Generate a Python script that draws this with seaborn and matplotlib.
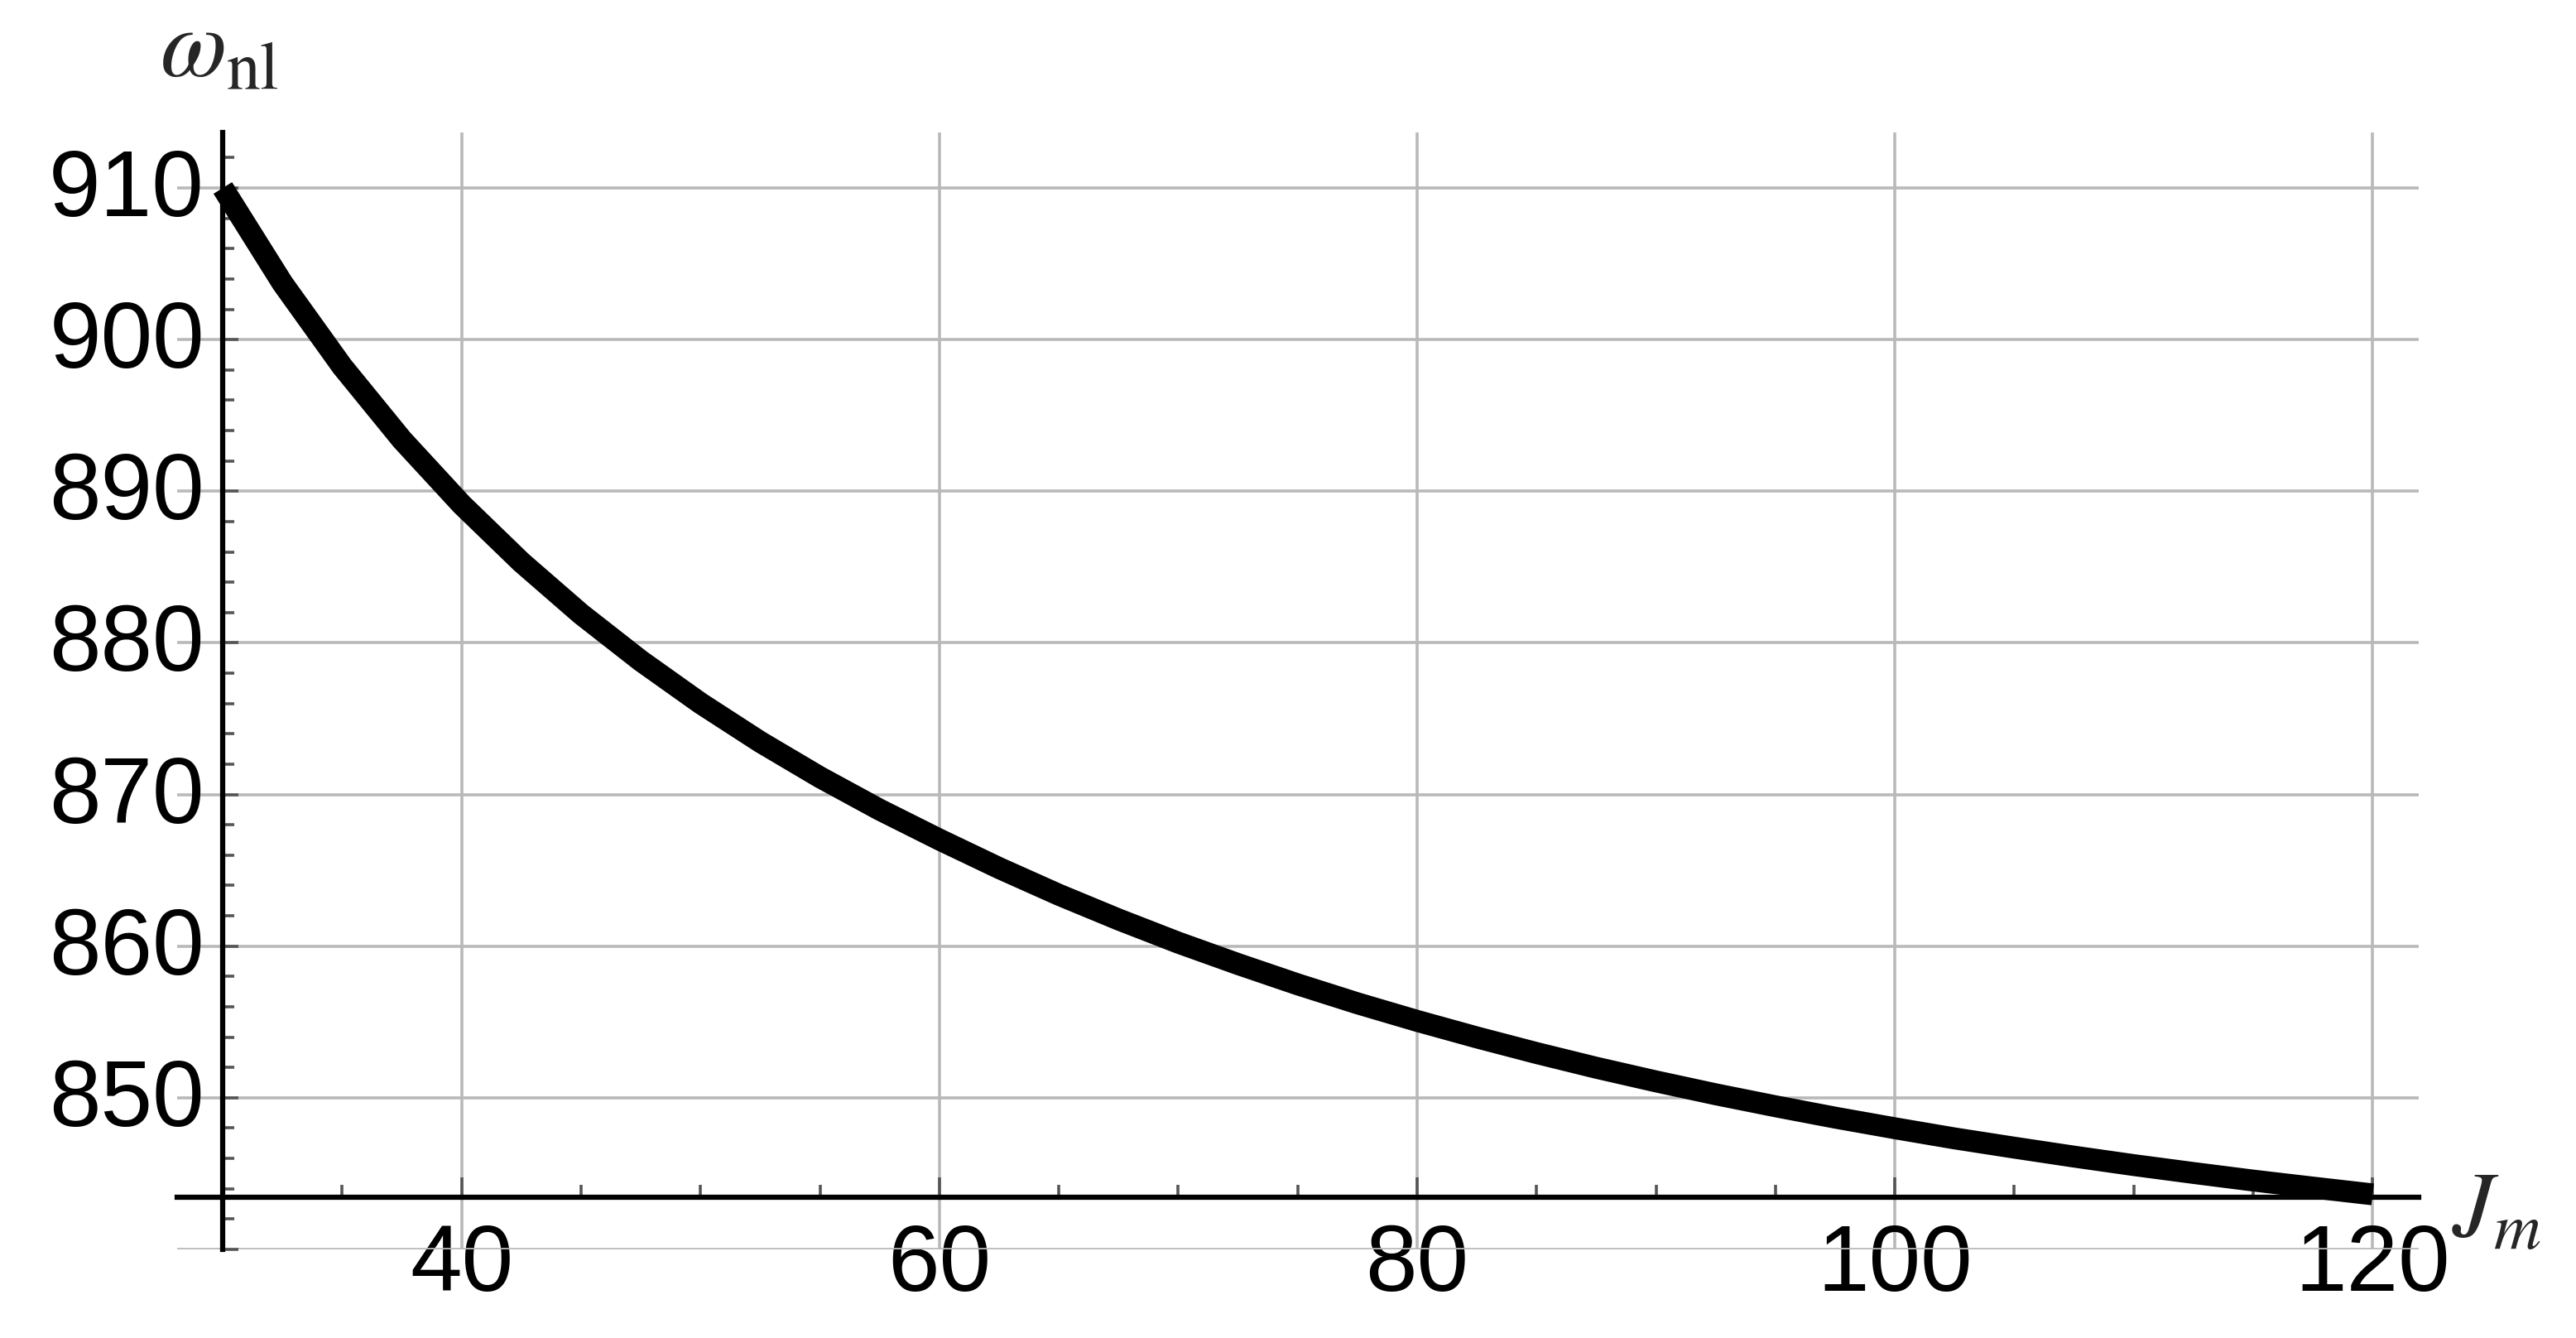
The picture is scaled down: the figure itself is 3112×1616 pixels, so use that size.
import numpy as np
import matplotlib
matplotlib.use("Agg")
import matplotlib.pyplot as plt
import matplotlib.transforms as mtransforms
import seaborn as sns

# values
J_m = [30, 32.5, 35, 37.5, 40, 42.5, 45, 47.5, 50, 52.5, 55, 57.5, 60,
       62.5, 65, 67.5, 70, 72.5, 75, 77.5, 80, 82.5, 85, 87.5, 90, 92.5,
       95, 97.5, 100, 102.5, 105, 107.5, 110, 112.5, 115, 117.5, 120]
omega_nl = [910.00, 903.72, 898.23, 893.40, 889.13, 885.32, 881.90, 878.82,
            876.02, 873.47, 871.14, 869.00, 867.03, 865.15, 863.39, 861.76,
            860.23, 858.82, 857.48, 856.23, 855.07, 853.98, 852.95, 851.98,
            851.08, 850.23, 849.44, 848.69, 847.99, 847.32, 846.71, 846.12,
            845.56, 845.04, 844.54, 844.08, 843.63]

x_major = [40, 60, 80, 100, 120]
x_minor = [35, 45, 50, 55, 65, 70, 75, 85, 90, 95, 105, 110, 115]
y_major = [840, 850, 860, 870, 880, 890, 900, 910]
y_labels = ["", "850", "860", "870", "880", "890", "900", "910"]
y_minor = [842, 844, 846, 848, 852, 854, 856, 858, 862, 864, 866, 868,
           872, 874, 876, 878, 882, 884, 886, 888, 892, 894, 896, 898,
           902, 904, 906, 908, 912]

sns.set_style("white")
plt.rcParams['font.family'] = ['Liberation Sans', 'DejaVu Sans']
plt.rcParams['mathtext.fontset'] = 'stix'

W, H = 3112, 1616
fig = plt.figure(figsize=(W / 100, H / 100), dpi=100)
ax = fig.add_axes([214 / W, (H - 1509) / H, (2922 - 214) / W, (1509 - 160) / H])

sns.lineplot(x=J_m, y=omega_nl, ax=ax, color='black', linewidth=19,
             solid_capstyle='butt', solid_joinstyle='round', zorder=5)

ax.set_xlim(28.09, 121.93)
ax.set_ylim(840, 913.66)

# axes cross like in Mathematica
ax.spines['left'].set_position(('data', 30))
ax.spines['bottom'].set_position(('data', 843.42))
for s in ['top', 'right']:
    ax.spines[s].set_visible(False)
for s in ['left', 'bottom']:
    ax.spines[s].set_linewidth(4.5)
    ax.spines[s].set_color('black')
    ax.spines[s].set_zorder(4)

ax.set_xticks(x_major)
ax.set_xticks(x_minor, minor=True)
ax.set_yticks(y_major)
ax.set_yticklabels(y_labels)
ax.set_yticks(y_minor, minor=True)

ax.tick_params(axis='both', which='both', direction='in', colors='#555555',
               labelcolor='black', labelsize=81, width=2.6,
               bottom=True, left=True, top=False, right=False)
ax.tick_params(axis='x', which='major', length=17, pad=22)
ax.tick_params(axis='x', which='minor', length=11)
ax.tick_params(axis='y', which='major', length=14, pad=16)
ax.tick_params(axis='y', which='minor', length=10)

# y labels sit a bit above their gridlines in the original
shift = mtransforms.ScaledTranslation(0, 7 / 100, fig.dpi_scale_trans)
for lbl in ax.get_yticklabels():
    lbl.set_transform(lbl.get_transform() + shift)

ax.grid(True, which='major', color='#b9b9b9', linewidth=2.6)
ax.set_axisbelow(True)
ax.set_xlabel("")
ax.set_ylabel("")

fig.text(193 / W, (H - 93) / H, r'$\omega_{\mathrm{nl}}$', fontsize=84,
         ha='left', va='baseline')
fig.text(2962 / W, (H - 1494) / H, r'$J_m$', fontsize=81,
         ha='left', va='baseline')

fig.savefig("out.png", dpi=100, facecolor='white')
